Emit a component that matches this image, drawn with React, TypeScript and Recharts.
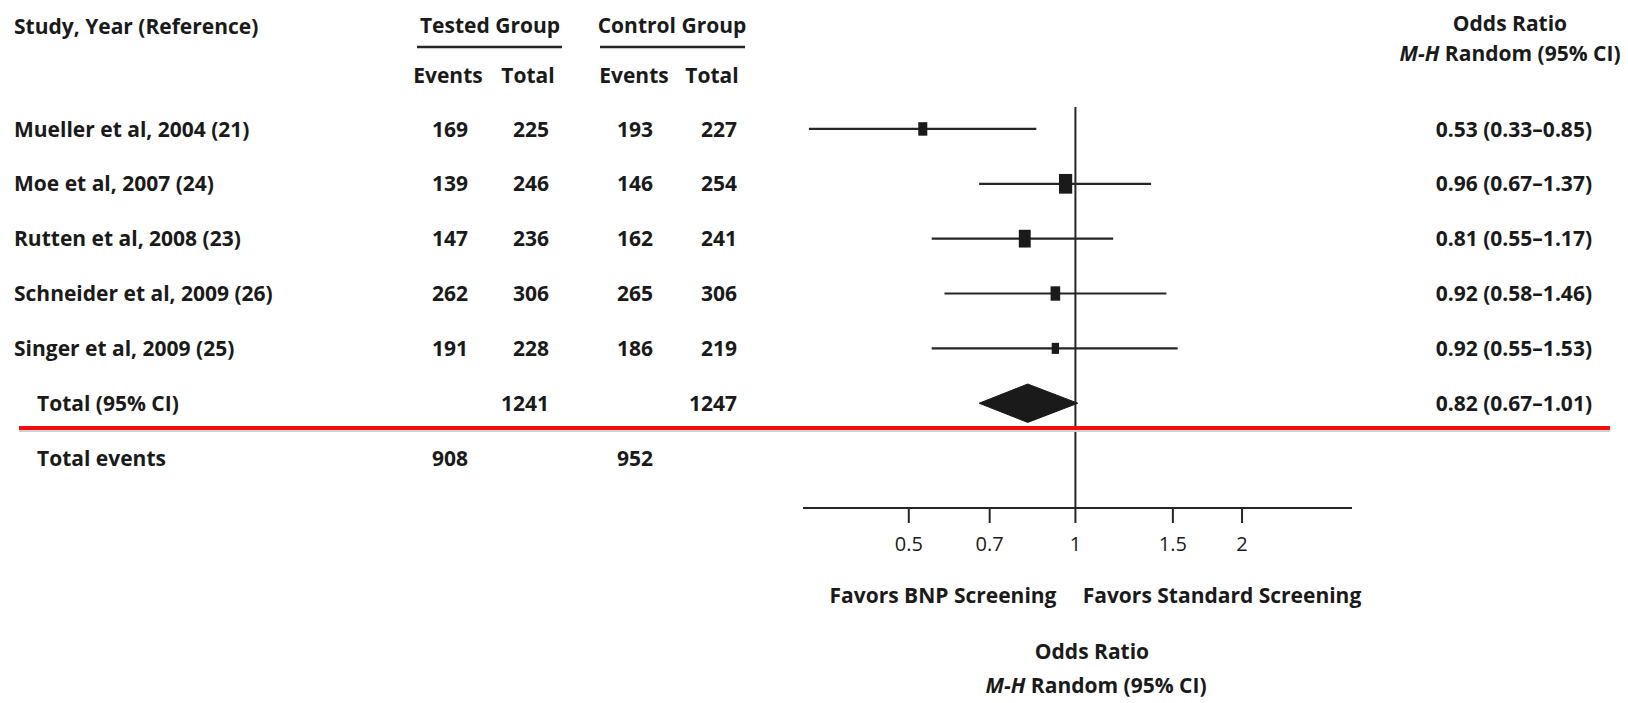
import { ErrorBar, ReferenceLine, Scatter, ScatterChart, XAxis, YAxis } from 'recharts'

const studies = [
  'Mueller et al, 2004 (21)',
  'Moe et al, 2007 (24)',
  'Rutten et al, 2008 (23)',
  'Schneider et al, 2009 (26)',
  'Singer et al, 2009 (25)',
]
const testedEvents = [169, 139, 147, 262, 191]
const testedTotal = [225, 246, 236, 306, 228]
const controlEvents = [193, 146, 162, 265, 186]
const controlTotal = [227, 254, 241, 306, 219]
const oddsRatio = [0.53, 0.96, 0.81, 0.92, 0.92]
const ciLow = [0.33, 0.67, 0.55, 0.58, 0.55]
const ciHigh = [0.85, 1.37, 1.17, 1.46, 1.53]
// study weight in %, drives the square size
const weights = [15, 32, 26, 17, 10]

const pooled = [0.82, 0.67, 1.01] // OR, low, high
const totalsAll = [1241, 1247] // tested, control
const eventsAll = [908, 952] // tested, control

const xTicks = [0.5, 0.7, 1, 1.5, 2]
const xDomain = [0.322, 3.16]

const W = 1628
const H = 703
const FONT = '"Open Sans", "Liberation Sans", sans-serif'
const INK = '#1a1a1a'
const LINE = '#262626'
const TXT = 21
const BOLD = 700

const fmt = (v: number) => v.toFixed(2)
const ciText = (or: number, lo: number, hi: number) => `${fmt(or)} (${fmt(lo)}–${fmt(hi)})`

const studyPoints = studies.map((_, i) => ({
  row: i + 1,
  or: oddsRatio[i],
  err: [oddsRatio[i] - ciLow[i], ciHigh[i] - oddsRatio[i]],
  weight: weights[i],
}))

const pooledRow = studies.length + 1
const DIAMOND_HALF = 0.35
const diamond = [
  { or: pooled[1], row: pooledRow },
  { or: pooled[0], row: pooledRow - DIAMOND_HALF },
  { or: pooled[2], row: pooledRow },
  { or: pooled[0], row: pooledRow + DIAMOND_HALF },
  { or: pooled[1], row: pooledRow },
]

type TableRow = { label: string; indent: boolean; cells: (number | null)[]; ci: string }

const tableRows: TableRow[] = [
  ...studies.map((label, i) => ({
    label,
    indent: false,
    cells: [testedEvents[i], testedTotal[i], controlEvents[i], controlTotal[i]],
    ci: ciText(oddsRatio[i], ciLow[i], ciHigh[i]),
  })),
  { label: 'Total (95% CI)', indent: true, cells: [null, totalsAll[0], null, totalsAll[1]], ci: ciText(pooled[0], pooled[1], pooled[2]) },
  { label: 'Total events', indent: true, cells: [eventsAll[0], null, eventsAll[1], null], ci: '' },
]
const rowTicks = tableRows.map((_, i) => i + 1)

const COL_RIGHT = [468, 549, 653, 737]

function RowTick({ y, payload }: any) {
  const r = tableRows[payload.value - 1]
  if (!r) return null
  return (
    <g fontFamily={FONT} fontSize={TXT} fontWeight={BOLD} fill={INK}>
      <text x={r.indent ? 37 : 14} y={y} dy="0.36em">
        {r.label}
      </text>
      {r.cells.map((c, j) =>
        c == null ? null : (
          <text key={j} x={COL_RIGHT[j]} y={y} dy="0.36em" textAnchor="end">
            {c}
          </text>
        ),
      )}
      {r.ci && (
        <text x={1592} y={y} dy="0.36em" textAnchor="end">
          {r.ci}
        </text>
      )}
    </g>
  )
}

function Square(p: any) {
  const h = 3.48 * Math.sqrt(p.payload.weight)
  const w = h * 0.67
  return <rect x={p.cx - w / 2} y={p.cy - h / 2} width={w} height={h} fill={INK} />
}

function MH({ x, y }: { x: number; y: number }) {
  return (
    <text x={x} y={y} dy="0.36em" textAnchor="middle">
      <tspan fontStyle="italic">M-H</tspan> Random (95% CI)
    </text>
  )
}

export default function App() {
  return (
    <div style={{ position: 'absolute', left: 0, top: 0, width: W, height: H, background: '#fff' }}>
      <ScatterChart width={W} height={H} margin={{ top: 107, right: 276, bottom: 155, left: 798 }}>
        <XAxis
          type="number"
          dataKey="or"
          scale="log"
          domain={xDomain}
          allowDataOverflow
          ticks={xTicks}
          interval={0}
          height={40}
          axisLine={{ stroke: LINE, strokeWidth: 2 }}
          tickLine={{ stroke: LINE, strokeWidth: 2 }}
          tickSize={15}
          tickMargin={14}
          tick={{ fontFamily: FONT, fontSize: 20, fill: INK }}
        />
        <YAxis
          type="number"
          dataKey="row"
          domain={[0.6, 7.91]}
          allowDataOverflow
          reversed
          ticks={rowTicks}
          interval={0}
          width={5}
          axisLine={false}
          tickLine={false}
          tick={<RowTick />}
        />
        <ReferenceLine x={1} stroke={LINE} strokeWidth={2} />
        <Scatter data={studyPoints} isAnimationActive={false} shape={<Square />}>
          <ErrorBar dataKey="err" direction="x" width={0} stroke={LINE} strokeWidth={2.2} isAnimationActive={false} />
        </Scatter>
        <Scatter
          data={diamond}
          isAnimationActive={false}
          line={{ stroke: INK, fill: INK, strokeWidth: 1 }}
          lineType="joint"
          shape={() => <g />}
        />
      </ScatterChart>
      <svg
        width={W}
        height={H}
        style={{ position: 'absolute', left: 0, top: 0, pointerEvents: 'none' }}
        fontFamily={FONT}
        fontSize={TXT}
        fontWeight={BOLD}
        fill={INK}
      >
        <text x={14} y={26} dy="0.36em">Study, Year (Reference)</text>
        <text x={490} y={25} dy="0.36em" textAnchor="middle">Tested Group</text>
        <text x={672} y={25} dy="0.36em" textAnchor="middle">Control Group</text>
        <line x1={417} x2={562} y1={47} y2={47} stroke={LINE} strokeWidth={2.5} />
        <line x1={600} x2={745} y1={47} y2={47} stroke={LINE} strokeWidth={2.5} />
        <text x={448} y={75} dy="0.36em" textAnchor="middle">Events</text>
        <text x={528} y={75} dy="0.36em" textAnchor="middle">Total</text>
        <text x={634} y={75} dy="0.36em" textAnchor="middle">Events</text>
        <text x={712} y={75} dy="0.36em" textAnchor="middle">Total</text>
        <text x={1510} y={23} dy="0.36em" textAnchor="middle">Odds Ratio</text>
        <MH x={1510} y={53} />
        <line x1={19} x2={1610} y1={431} y2={431} stroke="#d0d0d0" strokeWidth={2} />
        <line x1={19} x2={1610} y1={428} y2={428} stroke="#f01010" strokeWidth={4} />
        <text x={943} y={595} dy="0.36em" textAnchor="middle">Favors BNP Screening</text>
        <text x={1222} y={595} dy="0.36em" textAnchor="middle">Favors Standard Screening</text>
        <text x={1092} y={651} dy="0.36em" textAnchor="middle">Odds Ratio</text>
        <MH x={1096} y={685} />
      </svg>
    </div>
  )
}
